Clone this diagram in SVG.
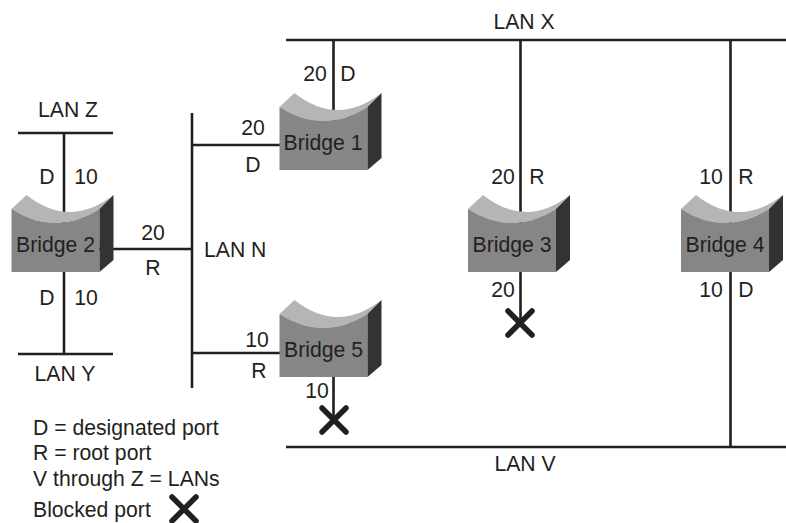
<svg xmlns="http://www.w3.org/2000/svg" xmlns:xlink="http://www.w3.org/1999/xlink" width="786" height="523" viewBox="0 0 786 523">
<style>
text{font-family:"Liberation Sans",Arial,sans-serif;font-size:21.2px;fill:#231f20}
.c{text-anchor:middle}
.l{stroke:#231f20;stroke-width:2.6;fill:none}
.x{stroke:#231f20;stroke-width:5.500;fill:none;stroke-linecap:round}
.f{fill:#868686}.t{fill:#b5b5b5}.s{fill:#333333}
</style>
<defs>
<g id="box">
<path class="t" d="M0 0L15 -14Q58 20 102 -14L88 0Q44 28 0 0Z"/>
<path class="f" d="M0 0Q44 28 88 0V63H0Z"/>
<path class="s" d="M88 0L102 -14V51L88 63Z"/>
</g>
<path id="cross" class="x" d="M-12 -12L12 12M12 -12L-12 12"/>
</defs>
<g id="connectors">
<path class="l" d="M286 40H786M286 447H786M18 133H113M18 354H113M192 113V388"/>
<path class="l" d="M333.500 40V125M520.500 40V225M730.500 40V447M64 133V354M99 249H192M192 145H290M192 353H290M520.500 270V323M333.500 370V420"/>
</g>
<g id="bridge1"><use xlink:href="#box" x="279.500" y="107"/><text x="323" y="150" class="c">Bridge 1</text></g>
<g id="bridge2"><use xlink:href="#box" x="11.500" y="209"/><text x="55.500" y="252" class="c">Bridge 2</text></g>
<g id="bridge3"><use xlink:href="#box" x="468" y="209"/><text x="512" y="252" class="c">Bridge 3</text></g>
<g id="bridge4"><use xlink:href="#box" x="681" y="209"/><text x="725" y="252" class="c">Bridge 4</text></g>
<g id="bridge5"><use xlink:href="#box" x="279.500" y="314"/><text x="323.500" y="357" class="c">Bridge 5</text></g>
<g id="blocked">
<use xlink:href="#cross" x="520" y="323"/>
<use xlink:href="#cross" x="334" y="420"/>
<use xlink:href="#cross" x="184" y="509"/>
</g>
<g id="labels">
<text x="524" y="29" class="c">LAN X</text>
<text x="525" y="471" class="c">LAN V</text>
<text x="68" y="117" class="c">LAN Z</text>
<text x="65" y="381" class="c">LAN Y</text>
<text x="204" y="257">LAN N</text>
<text x="315" y="81" class="c">20</text><text x="348" y="81" class="c">D</text>
<text x="253" y="135" class="c">20</text><text x="253" y="172" class="c">D</text>
<text x="47" y="184" class="c">D</text><text x="86" y="184" class="c">10</text>
<text x="47" y="305" class="c">D</text><text x="86" y="305" class="c">10</text>
<text x="153" y="240" class="c">20</text><text x="153" y="275" class="c">R</text>
<text x="257" y="347" class="c">10</text><text x="259" y="378" class="c">R</text>
<text x="503" y="184" class="c">20</text><text x="537" y="184" class="c">R</text>
<text x="503" y="297" class="c">20</text>
<text x="711" y="184" class="c">10</text><text x="746" y="184" class="c">R</text>
<text x="711" y="297" class="c">10</text><text x="746" y="297" class="c">D</text>
<text x="317" y="398" class="c">10</text>
<text x="33" y="435">D = designated port</text>
<text x="33" y="460">R = root port</text>
<text x="33" y="486">V through Z = LANs</text>
<text x="33" y="517">Blocked port</text>
</g>
</svg>
